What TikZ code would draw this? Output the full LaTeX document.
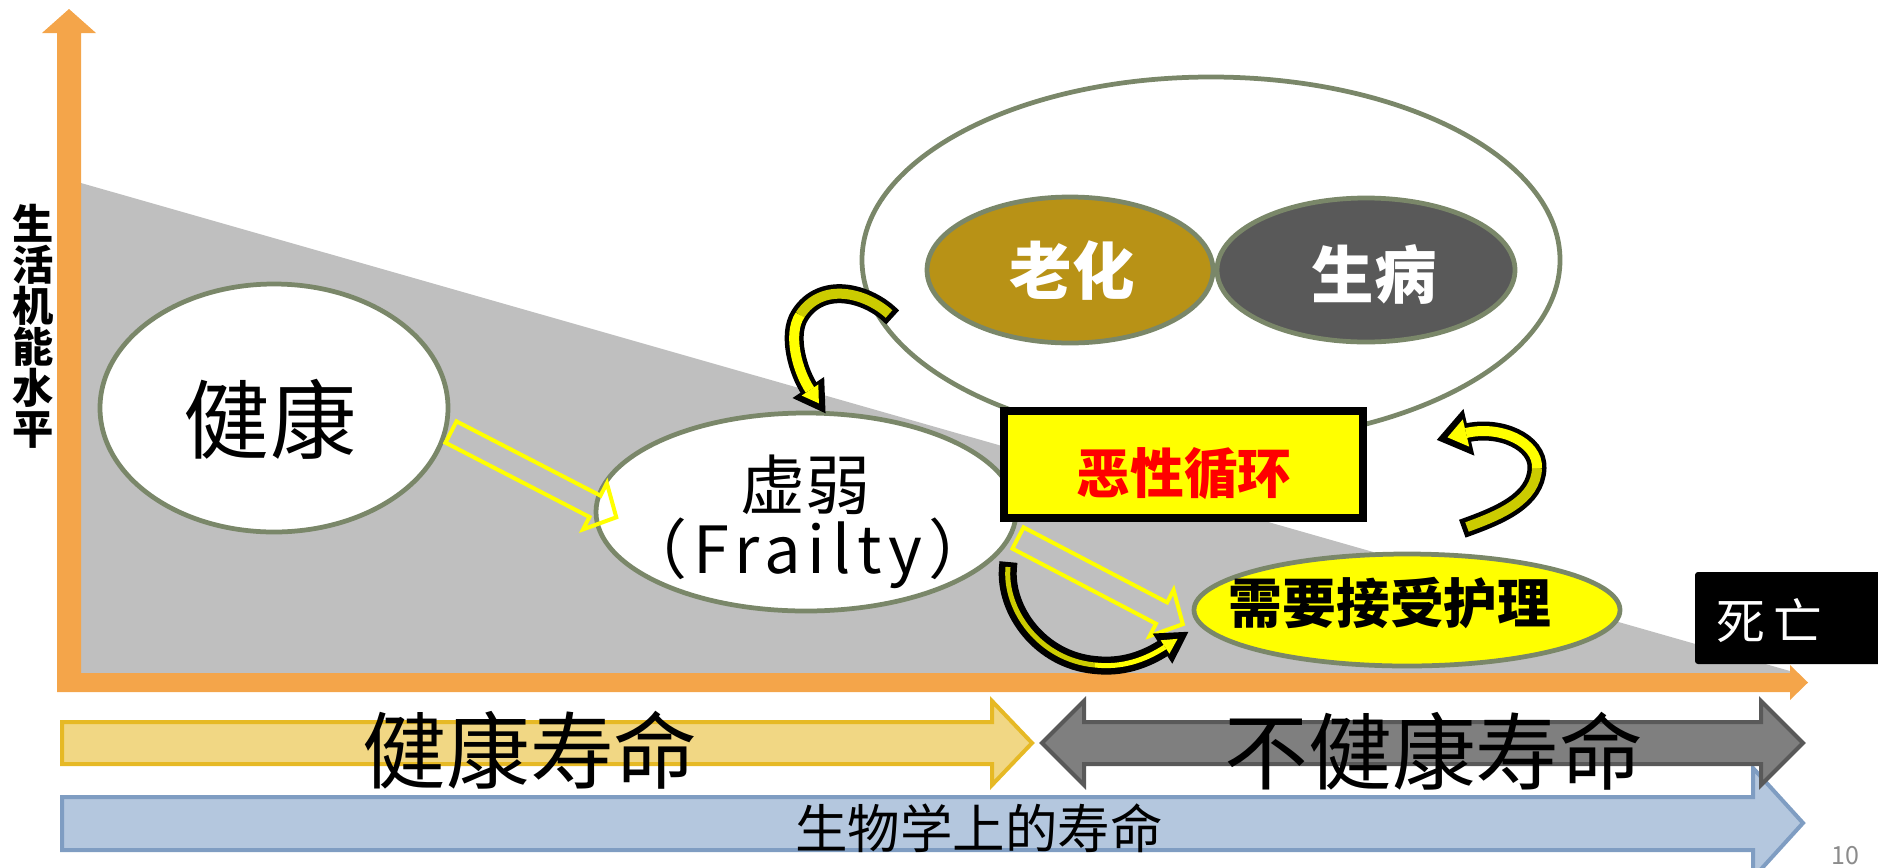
\documentclass[tikz,border=0pt]{standalone}
\usepackage{fontspec}
\setmainfont{Noto Sans CJK SC}
\usetikzlibrary{calc,shapes.geometric}
\definecolor{axisor}{HTML}{F4A54A}
\definecolor{trigray}{HTML}{BFBFBF}
\definecolor{ringgreen}{HTML}{7A8769}
\definecolor{agefill}{HTML}{B89216}
\definecolor{illfill}{HTML}{595959}
\definecolor{vyellow}{HTML}{FFFF00}
\definecolor{adark}{HTML}{CCCC00}
\definecolor{hfill}{HTML}{F1D784}
\definecolor{hline}{HTML}{E6B925}
\definecolor{ufill}{HTML}{7F7F7F}
\definecolor{uline}{HTML}{595959}
\definecolor{bfill}{HTML}{B4C7DE}
\definecolor{bline}{HTML}{7F9DC2}
\definecolor{pagegray}{HTML}{8C8C8C}
% curved band arrow: coordinates #1a..#1g must exist
% #2 outer width, #3 inner width, #4 outer half head, #5 outer head length,
% #6 inner half head, #7 inner head length, #8 tail outline
\newcommand\bandarrow[8]{%
  \coordinate (#1ob) at ($(#1g)!1.2pt!(#1f)$);
  \draw[black, line width=#2] ($(#1a)!-#8!(#1b)$) -- (#1a) .. controls (#1b) and (#1c) .. (#1d) .. controls (#1e) and (#1f) .. (#1g);
  \fill[black] ($(#1g)!-#5!(#1f)$) -- ($(#1ob)!#4!90:(#1f)$) -- ($(#1ob)!#4!-90:(#1f)$) -- cycle;
  \draw[adark, line width=#3] (#1a) .. controls (#1b) and (#1c) .. (#1d);
  \draw[vyellow, line width=#3] (#1d) .. controls (#1e) and (#1f) .. (#1g);
  \fill[vyellow] ($(#1g)!-#7!(#1f)$) -- ($(#1g)!#6!90:(#1f)$) -- ($(#1g)!#6!-90:(#1f)$) -- cycle;
}
\begin{document}
\begin{tikzpicture}[x=0.4pt,y=-0.4pt,
  ellring/.style={ellipse, draw=ringgreen, line width=1.9pt, inner sep=0pt},
  txt/.style={inner sep=0pt, align=center},
  hollow/.style={draw=vyellow, line width=1.6pt, line join=miter},
  band/.style={line width=1.6pt, line join=miter}]
\useasboundingbox (0,0) rectangle (1878,867);
\clip (0,0) rectangle (1878,867);

% gray declining area
\fill[trigray] (81,183) -- (81,673) -- (1797,673) -- cycle;
% axes
\fill[axisor] (57,692) -- (57,33) -- (42,33) -- (69,9) -- (96,33) -- (81,33)
  -- (81,673) -- (1790,673) -- (1790,665) -- (1808,682.5) -- (1790,700) -- (1790,692) -- cycle;

% ellipses
\node[ellring, fill=white, minimum width=139.2pt, minimum height=99.2pt] (healthy) at (274,408) {};
\node[ellring, fill=white, minimum width=168pt, minimum height=79.2pt] (frail) at (806,512) {};
\node[ellring, fill=white, minimum width=279.2pt, minimum height=146.4pt] (cause) at (1211,260) {};
\node[ellring, fill=agefill, minimum width=114.4pt, minimum height=58.4pt] (aging) at (1070,270) {};
\node[ellring, fill=illfill, minimum width=119.2pt, minimum height=57.6pt] (ill) at (1366,270) {};
\node[ellring, fill=vyellow, minimum width=170.4pt, minimum height=44.8pt] (care) at (1407,610) {};

% vicious circle box
\node[draw=black, fill=vyellow, line width=3pt, minimum width=143.6pt, minimum height=42.8pt, inner sep=0pt] (vicious) at (1183.5,464.5) {};
% death box
\node[fill=black, rounded corners=1.2pt, minimum width=78pt, minimum height=36.8pt, inner sep=0pt] (deathbox) at (1792.5,618) {};

% hollow straight arrows
\coordinate (h1s) at (451,432);
\begin{scope}[shift={(h1s)}, rotate=-27.3]
  \draw[hollow] (0,-12) -- (162,-12) -- (162,-26) -- (186,0) -- (162,26) -- (162,12) -- (0,12) -- cycle;
\end{scope}
\coordinate (h2s) at (1018,538);
\begin{scope}[shift={(h2s)}, rotate=-27.6]
  \draw[hollow] (0,-12) -- (162,-12) -- (162,-26) -- (186,0) -- (162,26) -- (162,12) -- (0,12) -- cycle;
\end{scope}

% curved arrows
\coordinate (Aa) at (889,314); \coordinate (Ab) at (866,293); \coordinate (Ac) at (822,281);
\coordinate (Ad) at (800,315); \coordinate (Ae) at (787,335); \coordinate (Af) at (798,372);
\coordinate (Ag) at (810,390);
\bandarrow{A}{7.6pt}{4pt}{7.6pt}{11.2pt}{4pt}{6.4pt}{2pt}

\coordinate (Ba) at (1008,567); \coordinate (Bb) at (1004,610); \coordinate (Bc) at (1040,660);
\coordinate (Bd) at (1095,665); \coordinate (Be) at (1122,668); \coordinate (Bf) at (1145,660);
\coordinate (Bg) at (1165,647);
\bandarrow{B}{7.2pt}{2pt}{7.2pt}{11.2pt}{3.2pt}{6pt}{2pt}

\coordinate (Ca) at (1467,527); \coordinate (Cb) at (1500,515); \coordinate (Cc) at (1536,500);
\coordinate (Cd) at (1537,468); \coordinate (Ce) at (1538,442); \coordinate (Cf) at (1500,425);
\coordinate (Cg) at (1466,433);
\bandarrow{C}{7.6pt}{4pt}{9.6pt}{12pt}{5.6pt}{7.6pt}{2pt}

% bottom lifespan arrows
\draw[band, draw=bline, fill=bfill] (62,797) -- (1753,797) -- (1753,768) -- (1803,823) -- (1753,878) -- (1753,850) -- (62,850) -- cycle;
\draw[band, draw=hline, fill=hfill] (62,722) -- (992,722) -- (992,701) -- (1032,743) -- (992,785) -- (992,764) -- (62,764) -- cycle;
\draw[band, draw=uline, fill=ufill] (1042,743) -- (1084,701) -- (1084,722) -- (1761,722) -- (1761,701) -- (1803,743)
  -- (1761,785) -- (1761,764) -- (1084,764) -- (1084,785) -- cycle;

% texts
\node[txt, font=\fontsize{16.5pt}{16.4pt}\selectfont\bfseries] (ylab) at (33,326) {生\\活\\机\\能\\水\\平};
\node[txt, font=\fontsize{34.5pt}{38pt}\selectfont] (thealthy) at (270,419) {健康};
\node[txt, font=\fontsize{26pt}{30pt}\selectfont] (tfrail) at (805,485) {虚弱};
\node[txt, font=\fontsize{26pt}{30pt}\selectfont\addfontfeature{LetterSpace=10}] (tfrailty) at (808,553) {（Frailty）};
\node[txt, font=\fontsize{25pt}{28pt}\selectfont\bfseries, text=white] (taging) at (1072,271) {老化};
\node[txt, font=\fontsize{25pt}{28pt}\selectfont\bfseries, text=white] (till) at (1374,274) {生病};
\node[txt, font=\fontsize{21.5pt}{24pt}\selectfont\bfseries, text=red] (tvicious) at (1184,474) {恶性循环};
\node[txt, font=\fontsize{21.5pt}{24pt}\selectfont\bfseries] (tcare) at (1390,603) {需要接受护理};
\node[txt, font=\fontsize{19.5pt}{22pt}\selectfont, text=white] (tdeath) at (1769,621) {死\,亡};
\node[txt, font=\fontsize{33.5pt}{36pt}\selectfont] (thl) at (530,750) {健康寿命};
\node[txt, font=\fontsize{33.5pt}{36pt}\selectfont] (tul) at (1434,751) {不健康寿命};
\node[txt, font=\fontsize{21pt}{24pt}\selectfont] (tbl) at (979,828) {生物学上的寿命};
\node[txt, font=\fontsize{10pt}{12pt}\selectfont, text=pagegray] (tpage) at (1845,856) {10};
\end{tikzpicture}
\end{document}
